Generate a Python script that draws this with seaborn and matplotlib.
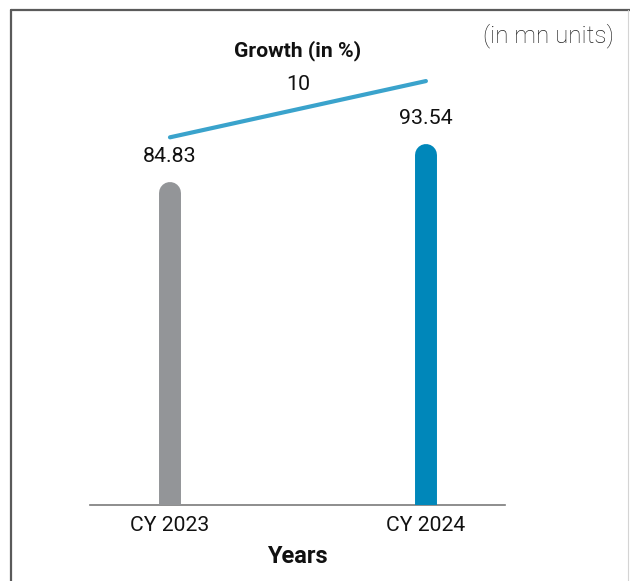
import pandas as pd
import seaborn as sns
import matplotlib.pyplot as plt
from matplotlib.lines import Line2D

# data
years = ["CY 2023", "CY 2024"]
units = [84.83, 93.54]
bar_colors = ["#939598", "#0087BA"]
growth_pct = "10"
growth_line = [97.6, 110.5]   # height of the growth indicator line at each year

sns.set_style("white")
plt.rcParams['font.family'] = ['Roboto', 'DejaVu Sans']

df = pd.DataFrame({"Years": years, "units": units})

fig = plt.figure(figsize=(6.3, 5.81), dpi=100)
ax = fig.add_axes([90/630, 76/581, 415/630, 485/581])

sns.barplot(data=df, x="Years", y="units", hue="Years", palette=bar_colors,
            saturation=1, width=0.09, legend=False, ax=ax)

ymin, ymax = 13.3, 124.5
# swap the flat bars for thick round-capped strokes
for p in ax.patches:
    xc = p.get_x() + p.get_width() / 2
    ax.plot([xc, xc], [ymin - 5, p.get_height()], color=p.get_facecolor(),
            lw=15.8, solid_capstyle="round", zorder=3)
    p.set_visible(False)
    ax.annotate("{:.2f}".format(p.get_height()), (xc, p.get_height()),
                xytext=(0, 26.5), textcoords="offset points",
                ha="center", va="center", fontsize=15.4, color="#111111")

sns.lineplot(x=[0, 1], y=growth_line, color="#3AA3CC", lw=3, ax=ax)
ax.annotate(growth_pct, (0.5, sum(growth_line) / 2), xytext=(0, 17.5),
            textcoords="offset points", ha="center", va="center",
            fontsize=15.4, color="#111111")

ax.set_xlim(-0.3125, 1.309)
ax.set_ylim(ymin, ymax)
ax.set_yticks([])
ax.set_ylabel("")
ax.set_xlabel("Years", fontsize=17, fontweight="bold", labelpad=7, color="#111111")
ax.tick_params(axis="x", length=0, pad=8, labelsize=15.2, colors="#111111")
for s in ["left", "right", "top"]:
    ax.spines[s].set_visible(False)
ax.spines["bottom"].set_color("#7a7a7a")
ax.spines["bottom"].set_linewidth(1.2)

fig.text(298/630, 1 - 51/581, "Growth (in %)", ha="center", va="center",
         fontsize=15.2, fontweight="bold", color="#111111")
fig.text(614/630, 1 - 36/581, "(in mn units)", ha="right", va="center",
         fontsize=17.5, fontweight="light", color="#222222")

# frame around the panel
fig.add_artist(Line2D([11/630, 1], [1 - 10/581, 1 - 10/581], color="#5a5a5a", lw=1.6))
fig.add_artist(Line2D([11/630, 11/630], [0, 1 - 10/581], color="#5a5a5a", lw=1.6))
fig.add_artist(Line2D([628/630, 628/630], [0, 1 - 10/581], color="#d4d4d4", lw=0.8))

fig.savefig("out.png", dpi=100)
